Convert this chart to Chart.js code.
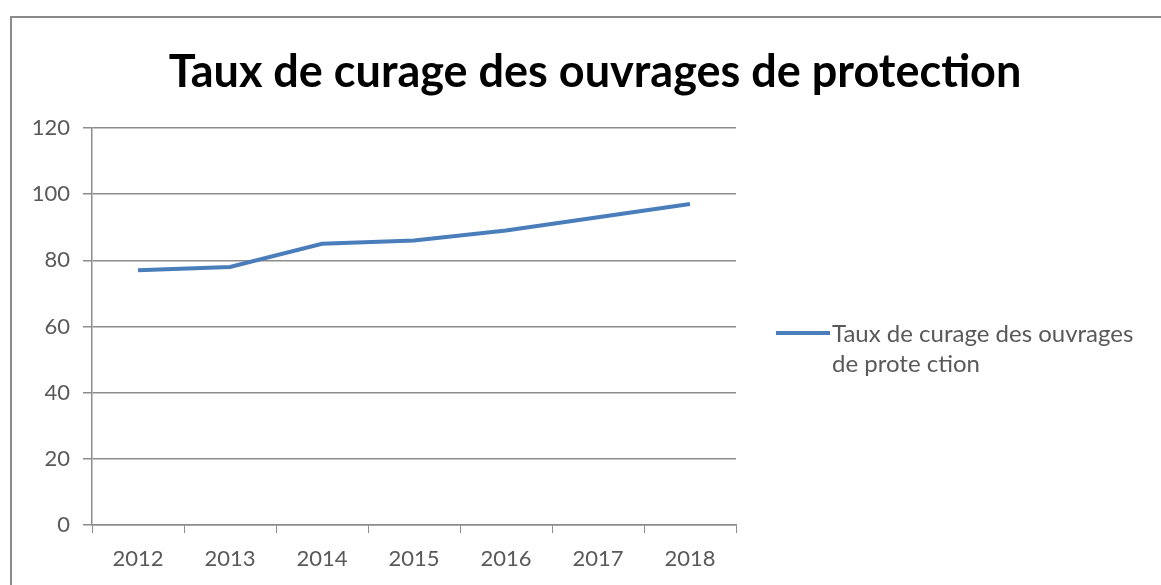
<!DOCTYPE html>
<html>
<head>
<meta charset="utf-8">
<script src="https://cdn.jsdelivr.net/npm/chart.js@4/dist/chart.umd.min.js"></script>
<style>
    body { margin: 0; background: #fff; overflow: hidden; }
    #wrap { position: relative; width: 1161px; height: 585px; overflow: hidden; }
    #title {
        position: absolute; left: 0; width: 1190px; top: 43px; text-align: center;
        font-family: Lato, sans-serif; font-weight: bold; font-size: 45px; color: #000;
        line-height: 54px;
    }
    #chart { position: absolute; left: 0; top: 0; }
    #legend {
        position: absolute; left: 776px; top: 318px; width: 385px;
        font-family: Lato, sans-serif; font-size: 24px; color: #595959; line-height: 30px;
    }
    #legend .swatch {
        position: absolute; left: 0; top: 13px; width: 54px; height: 4px; background: #4a7ebb;
    }
    #legend .txt { margin-left: 56px; }
</style>
</head>
<body>
<div id="wrap">
    <canvas id="chart" width="1161" height="585"></canvas>
    <div id="title">Taux de curage des ouvrages de protection</div>
    <div id="legend"><span class="swatch"></span><div class="txt">Taux de curage des ouvrages<br>de prote ction</div></div>
</div>
<script>
// Données
const years = ['2012', '2013', '2014', '2015', '2016', '2017', '2018'];
const tauxCurage = [77, 78, 85, 86, 89, 93, 97];
const yTicks = [0, 20, 40, 60, 80, 100, 120];
const seriesLabel = 'Taux de curage des ouvrages de protection';

const axisFont = { family: 'Lato, sans-serif', size: 22 };

// cadre gris du graphique (bords gauche et haut seulement)
const framePlugin = {
    id: 'frame',
    beforeDraw: function(chart) {
        const c = chart.ctx;
        c.save();
        c.fillStyle = '#fff';
        c.fillRect(0, 0, chart.width, chart.height);
        c.strokeStyle = '#8a8a8a';
        c.lineWidth = 2;
        c.beginPath();
        c.moveTo(11, chart.height);
        c.lineTo(11, 17);
        c.lineTo(chart.width, 17);
        c.stroke();
        c.restore();
    }
};

function initChart() {
    const ctx = document.getElementById('chart').getContext('2d');
    new Chart(ctx, {
        type: 'line',
        data: {
            labels: years,
            datasets: [{
                label: seriesLabel,
                data: tauxCurage,
                borderColor: '#4a7ebb',
                borderWidth: 4,
                pointRadius: 0,
                tension: 0,
                fill: false
            }]
        },
        options: {
            responsive: false,
            animation: false,
            layout: { padding: { left: 10, top: 128, right: 425, bottom: 15 } },
            plugins: {
                legend: { display: false },
                title: { display: false },
                tooltip: { enabled: false }
            },
            scales: {
                x: {
                    offset: true,
                    grid: {
                        offset: true,
                        drawOnChartArea: false,
                        color: '#8c8c8c',
                        tickLength: 8
                    },
                    border: { color: '#8c8c8c', width: 1.5 },
                    ticks: { color: '#595959', font: axisFont, padding: 13, maxRotation: 0 },
                    afterFit: function(scale) { scale.height = 45; }
                },
                y: {
                    min: 0,
                    max: 120,
                    afterBuildTicks: function(scale) {
                        scale.ticks = yTicks.map(v => ({ value: v }));
                    },
                    grid: { color: '#8c8c8c', lineWidth: 1.5, tickLength: 9 },
                    border: { color: '#8c8c8c', width: 1.5 },
                    ticks: { color: '#595959', font: axisFont, padding: 13 },
                    afterFit: function(scale) { scale.width = 82; }
                }
            }
        },
        plugins: [framePlugin]
    });
}

document.addEventListener('DOMContentLoaded', initChart);
</script>
</body>
</html>
